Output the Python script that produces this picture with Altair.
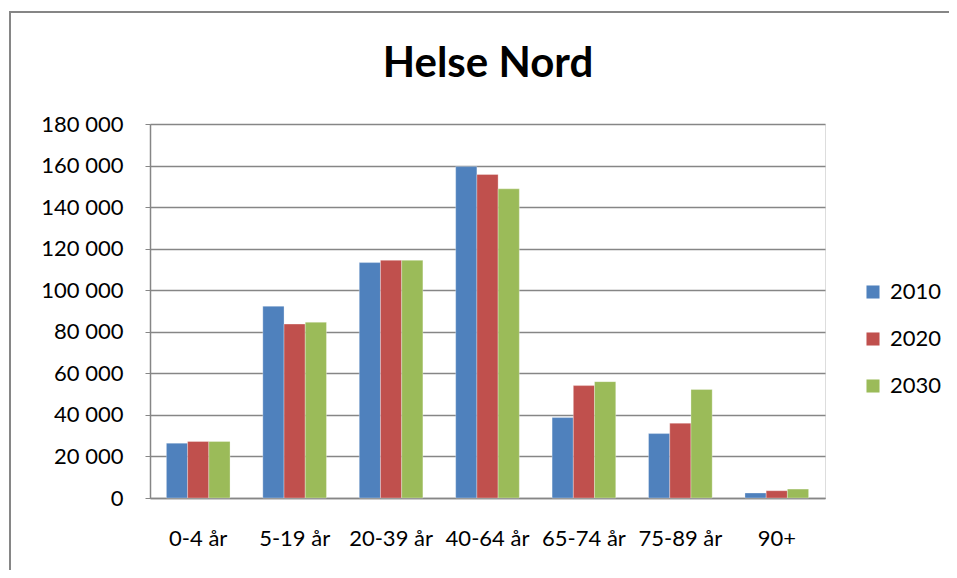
import altair as alt
import pandas as pd

categories = ["0-4 år", "5-19 år", "20-39 år", "40-64 år", "65-74 år", "75-89 år", "90+"]
years = ["2010", "2020", "2030"]
v2010 = [26400, 92300, 113300, 159500, 38700, 31000, 2400]
v2020 = [27200, 83700, 114400, 155700, 54100, 36000, 3500]
v2030 = [27200, 84600, 114400, 148800, 56000, 52200, 4300]
colors = ["#4F81BD", "#C0504D", "#9BBB59"]
title_text = "Helse Nord"

rows = []
for yr, vals in zip(years, [v2010, v2020, v2030]):
    for c, v in zip(categories, vals):
        rows.append({"Aldersgruppe": c, "År": yr, "Antall": v})
df = pd.DataFrame(rows)

FONT = "Lato"
W, H = 675, 374

bars = alt.Chart(df).mark_bar(stroke="white", strokeWidth=0.5, strokeOpacity=0.6).encode(
    x=alt.X("Aldersgruppe:N", sort=categories, title=None,
            scale=alt.Scale(paddingInner=0.34, paddingOuter=0.17),
            axis=alt.Axis(labelAngle=0, labelFontSize=22, labelFont=FONT, labelColor="black",
                          labelPadding=30, ticks=False, domainColor="#868686", domainWidth=1.5,
                          grid=False)),
    xOffset=alt.XOffset("År:N", sort=years),
    y=alt.Y("Antall:Q", title=None,
            scale=alt.Scale(domain=[0, 180000]),
            axis=alt.Axis(values=list(range(0, 180001, 20000)),
                          labelExpr="replace(format(datum.value, ','), ',', ' ')",
                          labelFontSize=22, labelFont=FONT, labelColor="black",
                          labelPadding=22, tickSize=5, tickColor="#868686",
                          domainColor="#868686", domainWidth=1.5,
                          gridColor="#868686", gridWidth=1.5)),
    color=alt.Color("År:N", sort=years, scale=alt.Scale(domain=years, range=colors),
                    legend=alt.Legend(title=None, orient="none", legendX=712, legendY=157,
                                      symbolType="square", symbolSize=170, symbolStrokeWidth=0,
                                      labelFontSize=22, labelFont=FONT, labelColor="black",
                                      rowPadding=25, labelOffset=6)),
)

title_mark = alt.Chart(pd.DataFrame({"t": [title_text]})).mark_text(
    font=FONT, fontSize=42, fontWeight="bold", color="black",
    align="center", baseline="alphabetic"
).encode(text="t:N", x=alt.value(338), y=alt.value(-47))

frame = alt.Chart(pd.DataFrame({"f": [0]})).mark_rect(
    fillOpacity=0, stroke="#868686", strokeWidth=2
).encode(x=alt.value(-140), x2=alt.value(900), y=alt.value(-112), y2=alt.value(600))

chart = alt.layer(frame, bars, title_mark).properties(
    width=W, height=H,
    autosize=alt.AutoSizeParams(type="none"),
    padding={"left": 142, "top": 116, "right": 124, "bottom": 72},
).configure_view(stroke=None).configure(background="white")

chart.save("out.html", embed_options={"renderer": "svg", "actions": False})
